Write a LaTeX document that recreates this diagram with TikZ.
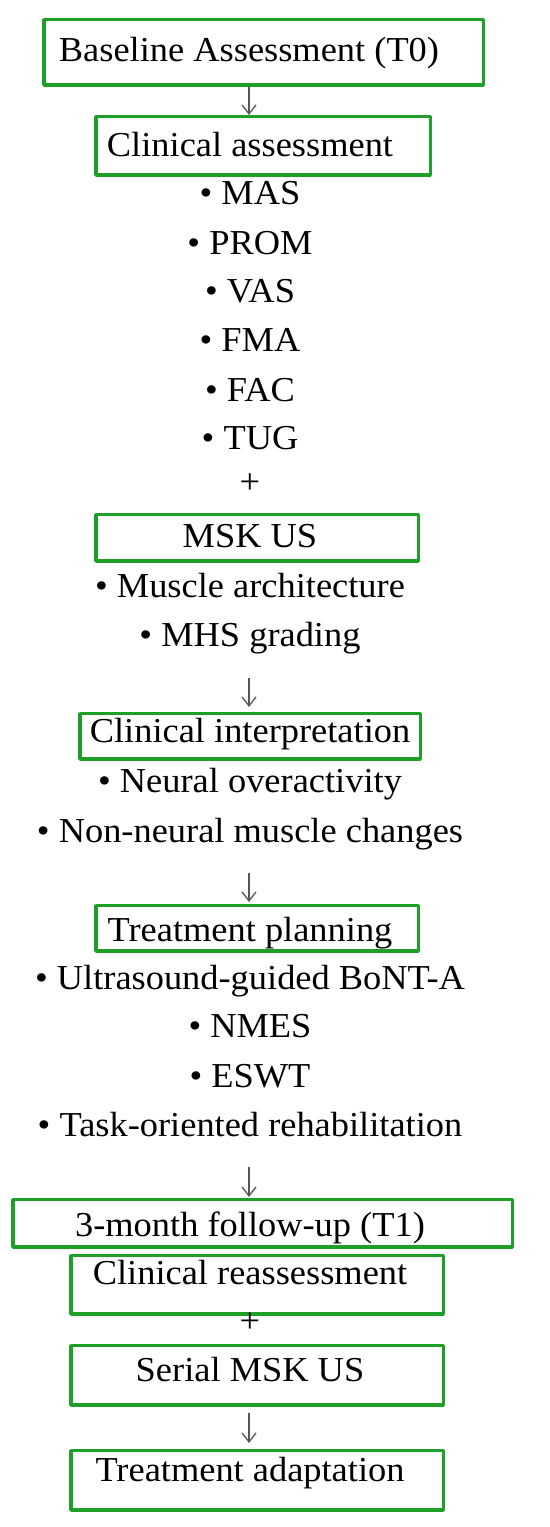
\documentclass[tikz,border=0pt]{standalone}
\usepackage{fontspec}
\setmainfont{Liberation Serif}[FakeStretch=1.04]
\usetikzlibrary{arrows.meta}
\definecolor{boxgreen}{RGB}{30,160,40}
\definecolor{arrowgray}{RGB}{85,85,85}
\begin{document}
\begin{tikzpicture}[>={Straight Barb[length=9bp,width=14bp]},line join=bevel,
  font=\fontsize{35bp}{42bp}\selectfont,
  box/.style={draw=boxgreen,line width=3.5bp,inner sep=0pt},
  txt/.style={inner sep=0pt,anchor=base,text height=24bp,text depth=8bp},
  flow/.style={draw=arrowgray,line width=1.3bp,->}]
%%
\useasboundingbox (0bp,0bp) rectangle (550bp,1527bp);
\coordinate (axis) at (249bp,0bp);
%% boxes
\node (box_baseline) at (263.5bp,1474.5bp) [box,minimum width=439.5bp,minimum height=65.5bp] {};
  \node (box_clinical) at (263bp,1381bp) [box,minimum width=334.5bp,minimum height=58.5bp] {};
  \node (box_msk) at (257bp,989bp) [box,minimum width=322.5bp,minimum height=46.5bp] {};
  \node (box_interp) at (250bp,790.5bp) [box,minimum width=340.5bp,minimum height=45.5bp] {};
  \node (box_plan) at (257bp,598.5bp) [box,minimum width=322.5bp,minimum height=45.5bp] {};
  \node (box_followup) at (262.5bp,303.5bp) [box,minimum width=499.5bp,minimum height=47.5bp] {};
  \node (box_reassess) at (257bp,242bp) [box,minimum width=372.5bp,minimum height=58.5bp] {};
  \node (box_serial) at (257bp,151.5bp) [box,minimum width=372.5bp,minimum height=59.5bp] {};
  \node (box_adapt) at (257bp,46.5bp) [box,minimum width=372.5bp,minimum height=59.5bp] {};
%% texts
\node (txt_baseline) at (249bp,1465bp) [txt] {Baseline Assessment (T0)};
  \node (txt_clinical) at (250bp,1370bp) [txt] {Clinical assessment};
  \node (item_mas) at (250bp,1322bp) [txt] {\textbullet{} MAS};
  \node (item_prom) at (250bp,1272bp) [txt] {\textbullet{} PROM};
  \node (item_vas) at (250bp,1224bp) [txt] {\textbullet{} VAS};
  \node (item_fma) at (250bp,1175bp) [txt] {\textbullet{} FMA};
  \node (item_fac) at (250bp,1125bp) [txt] {\textbullet{} FAC};
  \node (item_tug) at (250bp,1077bp) [txt] {\textbullet{} TUG};
  \node (plus_0) at (250bp,1033bp) [txt] {+};
  \node (txt_msk) at (250bp,979bp) [txt] {MSK US};
  \node (item_arch) at (250bp,929bp) [txt] {\textbullet{} Muscle architecture};
  \node (item_mhs) at (250bp,880bp) [txt] {\textbullet{} MHS grading};
  \node (txt_interp) at (250bp,784bp) [txt] {Clinical interpretation};
  \node (item_neural) at (250bp,734bp) [txt] {\textbullet{} Neural overactivity};
  \node (item_nonneural) at (250bp,684bp) [txt] {\textbullet{} Non-neural muscle changes};
  \node (txt_plan) at (250bp,585bp) [txt] {Treatment planning};
  \node (item_bont) at (250bp,537bp) [txt] {\textbullet{} Ultrasound-guided BoNT-A};
  \node (item_nmes) at (250bp,489bp) [txt] {\textbullet{} NMES};
  \node (item_eswt) at (250bp,439bp) [txt] {\textbullet{} ESWT};
  \node (item_task) at (250bp,390bp) [txt] {\textbullet{} Task-oriented rehabilitation};
  \node (txt_followup) at (250bp,290bp) [txt] {3-month follow-up (T1)};
  \node (txt_reassess) at (250bp,242bp) [txt] {Clinical reassessment};
  \node (plus_1) at (250bp,194bp) [txt] {+};
  \node (txt_serial) at (250bp,145bp) [txt] {Serial MSK US};
  \node (txt_adapt) at (250bp,45bp) [txt] {Treatment adaptation};
%% arrows
\draw [flow] (box_baseline.south -| axis) -- (box_clinical.north -| axis);
  \draw [flow,shorten <=23bp,shorten >=5bp] (item_mhs.south -| axis) -- (box_interp.north -| axis);
  \draw [flow,shorten <=22bp,shorten >=2bp] (item_nonneural.south -| axis) -- (box_plan.north -| axis);
  \draw [flow,shorten <=22bp,shorten >=1bp] (item_task.south -| axis) -- (box_followup.north -| axis);
  \draw [flow,shorten <=6bp,shorten >=6bp] (box_serial.south -| axis) -- (box_adapt.north -| axis);
%
\end{tikzpicture}
\end{document}
